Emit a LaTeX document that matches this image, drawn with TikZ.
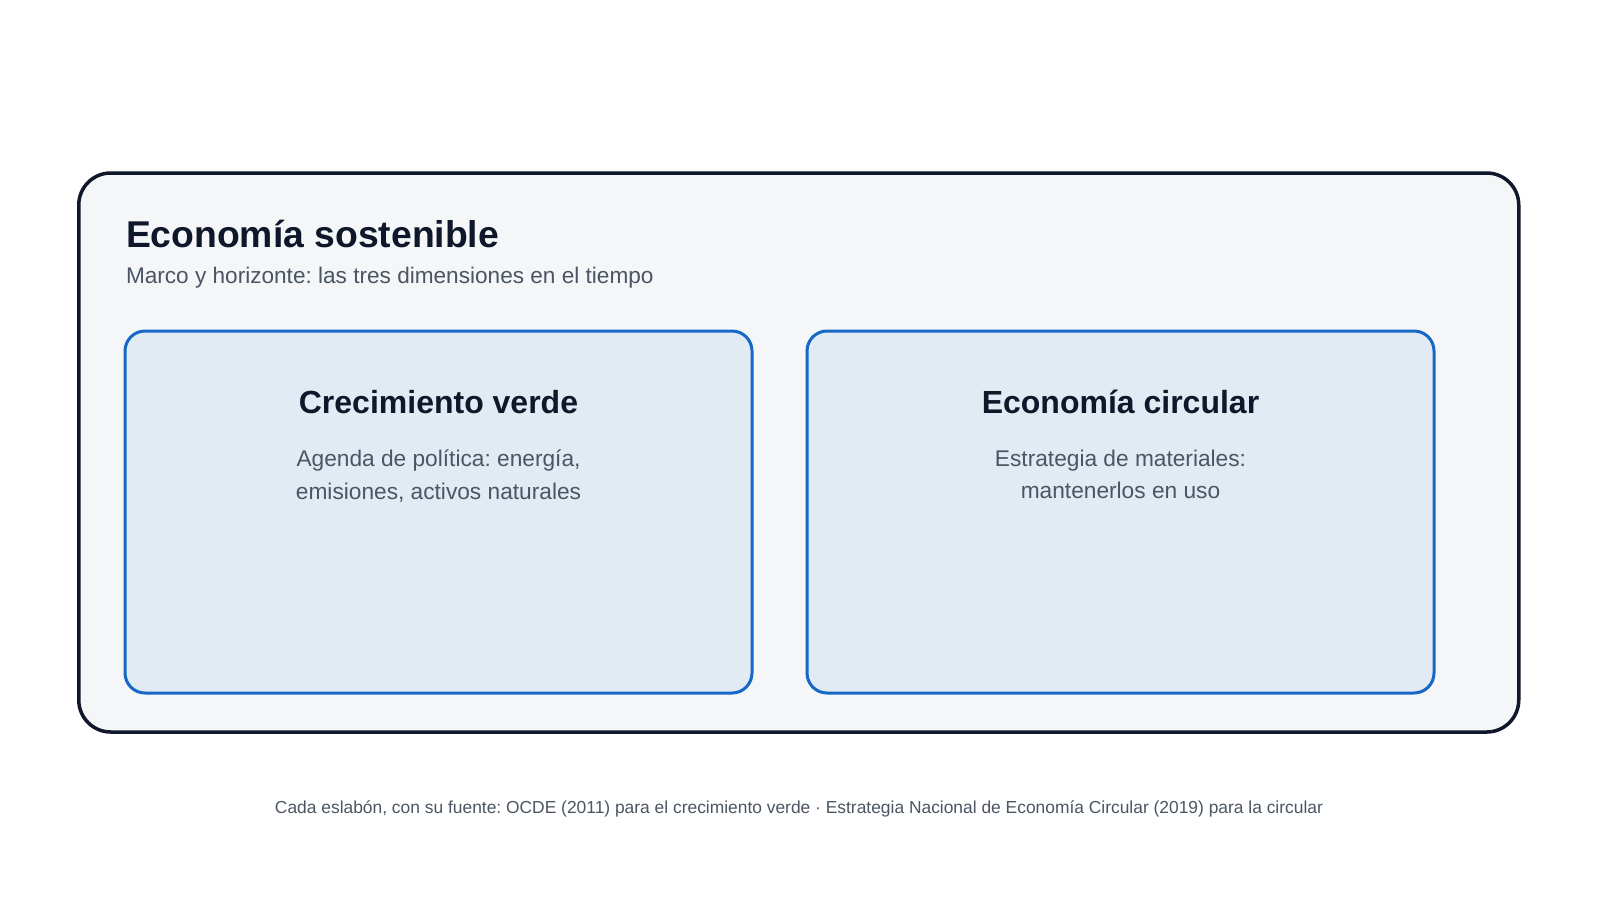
\documentclass[tikz,border=0pt]{standalone}
\usepackage{fontspec}
\setmainfont{Liberation Sans}
\frenchspacing
\definecolor{navy}{HTML}{0F172A}
\definecolor{panelbg}{HTML}{F4F6F8}
\definecolor{cardbg}{HTML}{E2EAF3}
\definecolor{cardline}{HTML}{1668C6}
\definecolor{greytext}{HTML}{4B5563}
\begin{document}
\begin{tikzpicture}[x=1pt,y=-1pt,
  panel/.style={draw=navy,line width=3.5pt,fill=panelbg,rounded corners=32pt,inner sep=0pt,outer sep=0pt},
  card/.style={draw=cardline,line width=3pt,fill=cardbg,rounded corners=20pt,inner sep=0pt,outer sep=0pt,minimum width=627pt,minimum height=362pt},
  txt/.style={inner sep=0pt,outer sep=0pt},
  bigtitle/.style={txt,anchor=base west,text=navy,font=\fontsize{37.3}{44}\selectfont\bfseries},
  subtitle/.style={txt,anchor=base west,text=greytext,font=\fontsize{22.6}{26}\selectfont},
  cardtitle/.style={txt,anchor=base,text=navy,font=\fontsize{32}{38}\selectfont\bfseries},
  carddesc/.style={txt,anchor=base,text=greytext,align=center,font=\fontsize{22.7}{32.5}\selectfont},
  foot/.style={txt,anchor=base,text=greytext,font=\fontsize{17.4}{20}\selectfont}]
\useasboundingbox[fill=white] (0,0) rectangle (1600,900);
\node[panel,minimum width=1440pt,minimum height=559pt] (outer) at (798.75,452.5) {};
\node[bigtitle] (title) at (126,247) {Economía sostenible};
\node[subtitle] (sub) at (126,283) {Marco y horizonte: las tres dimensiones en el tiempo};
\node[card] (left) at (438.5,512) {};
\node[card] (right) at (1120.5,512) {};
\node[cardtitle] (lt) at (438.5,413) {Crecimiento verde};
\node[carddesc,anchor=north] (ld) at (438.5,450) {Agenda de política: energía,\\emisiones, activos naturales};
\node[cardtitle] (rt) at (1120.5,413) {Economía circular};
\node[carddesc,anchor=north] (rd) at (1120.5,450) {Estrategia de materiales:\\mantenerlos en uso};
\node[foot] (footer) at (799,813) {Cada eslabón, con su fuente: OCDE (2011) para el crecimiento verde · Estrategia Nacional de Economía Circular (2019) para la circular};
\end{tikzpicture}
\end{document}
